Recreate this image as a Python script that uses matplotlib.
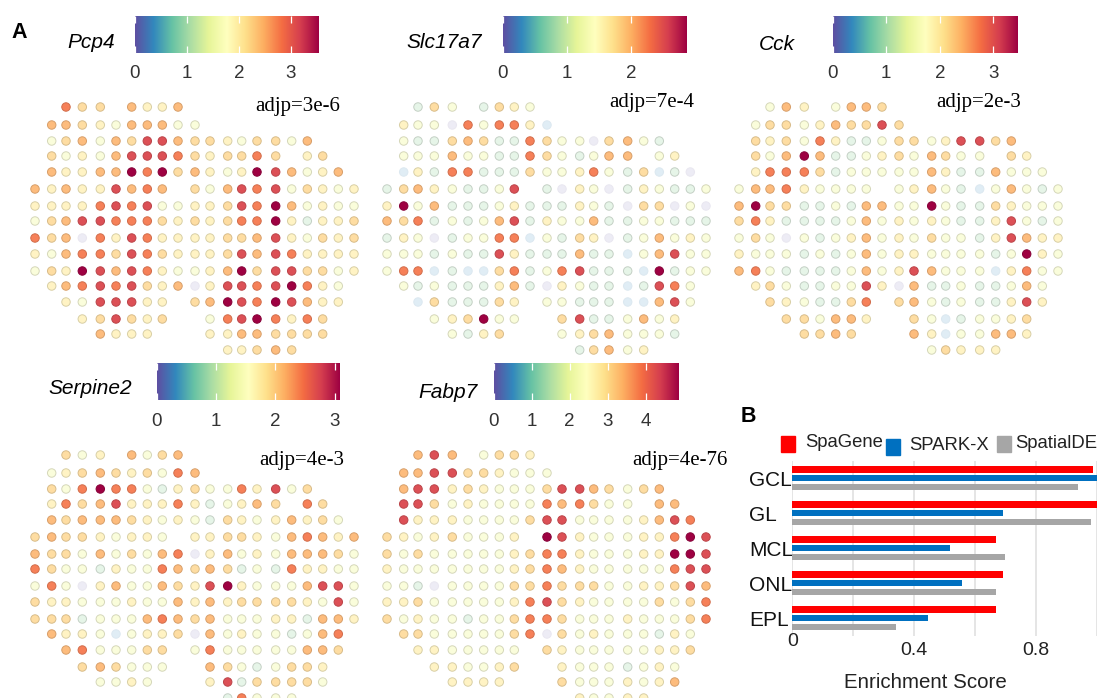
import numpy as np
import matplotlib as mpl
mpl.use('Agg')
import matplotlib.pyplot as plt
from matplotlib.patches import Rectangle

W, H = 1098, 698

# spot array: column / row centres of the capture grid (same for every gene)
col_x = [35, 51.7, 66, 82.3, 100.3, 116, 131.7, 147.3, 162.3, 178, 195, 210,
         227.7, 241.7, 257, 275.7, 291.7, 307.3, 322.7, 338.3, 354]
row_y = [107, 125, 141, 156, 172, 189, 206, 221, 238, 254, 271, 286, 302, 319, 334, 350]

# expression read from the picture as colour levels 0-9, one string per row, . = no spot
pcp4 = ["..755.6446...........",
        ".6654366633..........",
        ".35636588655435536...",
        ".534368887545575.45..",
        ".6446697956434986346.",
        "646448676.53687835434",
        "444478783344587963433",
        "356887775454577942445",
        "756074874444556843545",
        "436775875444586874444",
        "354986874334695885534",
        ".4678785460488789743.",
        "..4388844.5698798644.",
        "...458545..37897475..",
        "....6444...44665555..",
        "............44565...."]
slc17a7 = ["..253.2543...........",
           ".4330737741..........",
           ".32256522753305632...",
           ".333633227532366.34..",
           ".1427722253347325120.",
           "256432238.20430243223",
           "493622234222432055030",
           "657232368243362233222",
           "243023377132540236343",
           "333232284222622136833",
           "377121157237822219233",
           ".3232224620432212873.",
           "..1522254.3322211683.",
           "...345933..58223634..",
           "....3245...34563332..",
           "............25634...."]
cck = ["..364.3665...........",
       ".3553465585..........",
       ".54537422355348856...",
       ".536962234536533.54..",
       ".4777523333364226333.",
       "366743333.34632136323",
       "695522326633932254333",
       "574222236343432248323",
       "353032346343533248644",
       "433323236344333323943",
       "673222236348633314733",
       ".4532233840622322363.",
       "..5432257.5632322484.",
       "...553664..53123345..",
       "....5565...64133664..",
       "............35444...."]
serpine2 = ["..534.6356...........",
            ".3456545376..........",
            ".53797732453374835...",
            ".475684447423465.75..",
            ".6566654343254346453.",
            "565543443.44554367646",
            "655363536704634366653",
            "753324337656523274433",
            "373046336548943336883",
            "544333433646455554383",
            "555233367656333442664",
            ".6443134450634332367.",
            "..6733355.3733333665.",
            "...565333..65323554..",
            "....3343...48255553..",
            "............27333...."]
fabp7 = ["..686.3554...........",
         ".6688554333..........",
         ".68845433358865356...",
         ".885343333767533.66..",
         ".8444333358833334687.",
         "543453334.98433344798",
         "535333334577433344998",
         "433333334576433333788",
         "332033335575553344586",
         "445333334785433335357",
         "534332335775333433357",
         ".5533333570534333243.",
         "..4433333.5433333445.",
         "...443345..43332343..",
         "....4444...53334346..",
         "............43344...."]

# level -> place on the colour scale
level_frac = [0.0, 0.1, 0.28, 0.46, 0.56, 0.63, 0.70, 0.79, 0.88, 1.0]

# bar chart values
layers = ['GCL', 'GL', 'MCL', 'ONL', 'EPL']
spagene = [0.989, 1.0, 0.67, 0.691, 0.67]
sparkx = [1.0, 0.691, 0.518, 0.559, 0.447]
spatialde = [0.94, 0.98, 0.70, 0.67, 0.34]

plt.rcParams['font.family'] = ['Liberation Sans', 'DejaVu Sans']
fig = plt.figure(figsize=(W / 100, H / 100), dpi=100)
cmap = plt.get_cmap('Spectral_r')
level_alpha = [0.11, 0.15, 0.25, 0.45, 0.62, 0.72, 0.82, 0.9, 0.95, 1.0]


def px_axes(x0, y0, x1, y1):
    return fig.add_axes([x0 / W, 1 - y1 / H, (x1 - x0) / W, (y1 - y0) / H])


def colorbar(x0, y0, x1, vmax, ticks):
    ax = px_axes(x0, y0, x1, y0 + 37)
    grad = np.linspace(0, 1, 256).reshape(1, -1)
    ax.imshow(grad, cmap=cmap, extent=[0, vmax, 0, 1], aspect='auto')
    ax.vlines(ticks, 0, 0.18, color='white', lw=0.9)
    ax.vlines(ticks, 0.82, 1, color='white', lw=0.9)
    ax.set_xticks(ticks)
    ax.set_xticklabels([str(t) for t in ticks], fontsize=13.5, color='#333333')
    ax.tick_params(axis='x', length=0, pad=9)
    ax.set_yticks([])
    for s in ax.spines.values():
        s.set_visible(False)


def spots(rows, ox, oy):
    ax = px_axes(ox + 20, oy + 95, ox + 370, oy + 360)
    xs, ys, cs, es = [], [], [], []
    for r, row in enumerate(rows):
        for c, ch in enumerate(row):
            if ch == '.':
                continue
            lev = int(ch)
            rgb = np.array(cmap(level_frac[lev])[:3])
            fill = 1 - (1 - rgb) * level_alpha[lev]
            xs.append(col_x[c])
            ys.append(row_y[r])
            cs.append(fill)
            es.append(fill * (0.98 if lev < 2 else 0.85))
    ax.scatter(xs, ys, s=37, c=cs, edgecolors=es, linewidths=0.7, clip_on=False)
    ax.set_xlim(20, 370)
    ax.set_ylim(360, 95)
    ax.axis('off')


def label(x, y, s, **kw):
    fig.text(x / W, 1 - y / H, s, va='center', **kw)


spots(pcp4, 0, 0)
spots(slc17a7, 352, 0)
spots(cck, 704, 0)
spots(serpine2, 0, 348)
spots(fabp7, 352, 348)

colorbar(135, 16, 319, 3.54, [0, 1, 2, 3])
colorbar(503, 16, 686.7, 2.87, [0, 1, 2])
colorbar(832.7, 16, 1017, 3.44, [0, 1, 2, 3])
colorbar(156.7, 363, 339.3, 3.08, [0, 1, 2, 3])
colorbar(493.7, 363, 677.7, 4.84, [0, 1, 2, 3, 4])

for x, y, s in [(67, 42, 'Pcp4'), (406, 43, 'Slc17a7'), (759, 44, 'Cck'),
                (48, 389, 'Serpine2'), (418, 393, 'Fabp7')]:
    label(x, y, s, fontsize=15, style='italic', color='black')

for x, y, s in [(255, 107, 'adjp=3e-6'), (609, 103, 'adjp=7e-4'), (936.7, 102, 'adjp=2e-3'),
                (259.7, 460, 'adjp=4e-3'), (632.7, 460, 'adjp=4e-76')]:
    label(x, y, s, fontsize=15, family='Liberation Serif', color='black')

label(11, 33, 'A', fontsize=15.5, weight='bold')
label(741, 416, 'B', fontsize=15.5, weight='bold')

# panel B
ax = px_axes(792.3, 461, 1096.7, 636)
pos = np.arange(len(layers))
ax.barh(pos - 0.25, spagene, 0.18, color='#FF0000', zorder=3)
ax.barh(pos, sparkx, 0.18, color='#0070C0', zorder=3)
ax.barh(pos + 0.25, spatialde, 0.18, color='#A6A6A6', zorder=3)
ax.set_xlim(0, 1)
ax.set_ylim(4.506, -0.494)
ax.set_xticks([0, 0.2, 0.4, 0.6, 0.8, 1.0])
ax.set_xticklabels(['0', '', '0.4', '', '0.8', ''], fontsize=14, color='#222222')
ax.grid(axis='x', color='#DEDEDE', lw=1.1, zorder=0)
ax.tick_params(axis='both', length=0)
ax.xaxis.get_major_ticks()[0].set_pad(-2)
ax.xaxis.get_major_ticks()[2].set_pad(4)
ax.xaxis.get_major_ticks()[4].set_pad(4)
ax.set_yticks(pos)
ax.set_yticklabels(layers, fontsize=15, ha='left', color='#111111')
ax.tick_params(axis='y', pad=31)
for s in ax.spines.values():
    s.set_visible(False)
label(925, 683, 'Enrichment Score', fontsize=14.8, ha='center', color='#222222')

# legend squares are not on one line in the original
for x0, y0, col, tx, ty, name in [(780.7, 436, '#FF0000', 805.7, 442.5, 'SpaGene'),
                                  (885.7, 439, '#0070C0', 909, 445, 'SPARK-X'),
                                  (996.7, 436, '#A6A6A6', 1015.7, 443, 'SpatialDE')]:
    fig.add_artist(Rectangle((x0 / W, 1 - (y0 + 15.5) / H), 14.5 / W, 15.5 / H,
                             transform=fig.transFigure, color=col))
    label(tx, ty, name, fontsize=13.3, color='#222222')

fig.savefig('out.png', dpi=100)
